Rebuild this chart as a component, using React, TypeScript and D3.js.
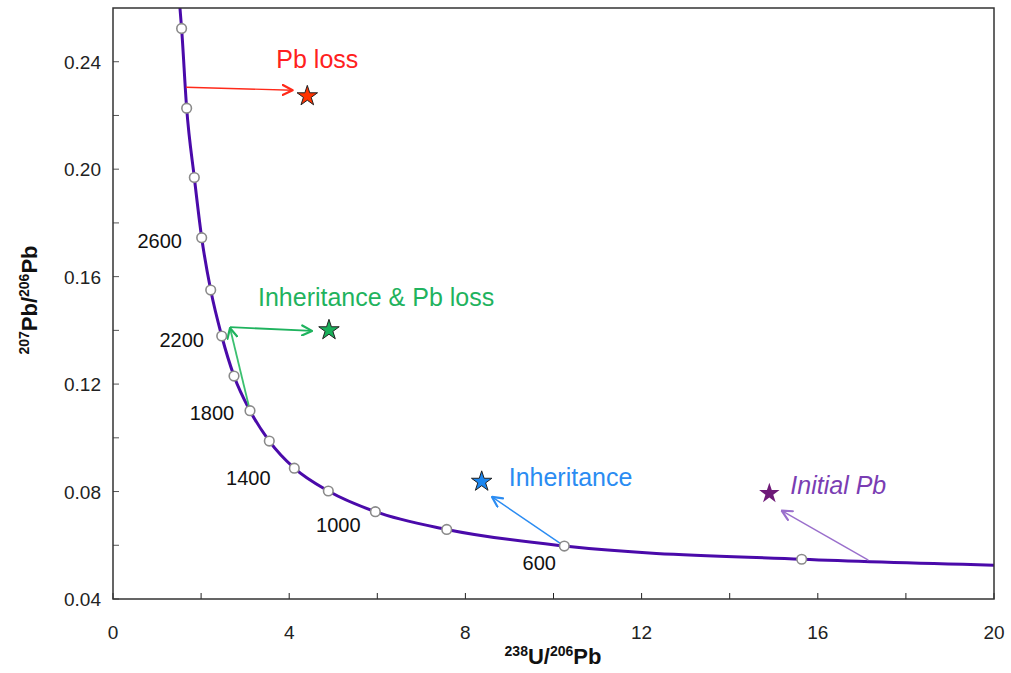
import * as d3 from 'd3';

// concordia reference points (Ma)
const concordiaAges = [3200, 3000, 2800, 2600, 2400, 2200, 2000, 1800, 1600, 1400, 1200, 1000, 800, 600, 400];
const markerU238Pb206 = [1.557, 1.672, 1.846, 2.013, 2.218, 2.468, 2.747, 3.11, 3.548, 4.116, 4.888, 5.956, 7.576, 10.245, 15.634];
const markerPb207Pb206 = [0.2524, 0.2227, 0.1969, 0.1745, 0.155, 0.1379, 0.123, 0.1101, 0.0988, 0.0887, 0.0802, 0.0725, 0.0659, 0.0597, 0.0548];

// curve ends outside the marker range
const curveStart = [1.52, 0.26];
const curveEnd = [20, 0.0526];

const labelledAges = [2600, 2200, 1800, 1400, 1000, 600];

const xTicks = [0, 2, 4, 6, 8, 10, 12, 14, 16, 18, 20];
const xTickLabels = [0, 4, 8, 12, 16, 20];
const yTicks = [0.04, 0.06, 0.08, 0.1, 0.12, 0.14, 0.16, 0.18, 0.2, 0.22, 0.24];
const yTickLabels = [0.04, 0.08, 0.12, 0.16, 0.2, 0.24];

// annotated analyses (stars) and arrow ends
const annotationNames = ['Pb loss', 'Inheritance & Pb loss', 'Inheritance', 'Initial Pb'];
const starU238Pb206 = [4.411, 4.903, 8.37, 14.9];
const starPb207Pb206 = [0.2272, 0.1401, 0.0837, 0.0793];
const arrowFrom = [[1.658, 0.2305], [2.656, 0.1412], [10.245, 0.0597], [17.147, 0.0545]];
const arrowTo = [[4.079, 0.2294], [4.518, 0.1398], [8.604, 0.078], [15.18, 0.0729]];
const extraArrowFrom = [3.11, 0.1101];
const extraArrowTo = [2.656, 0.1409];

const W = 1011;
const H = 673;
const x = d3.scaleLinear().domain([0, 20]).range([113, 994]);
const y = d3.scaleLinear().domain([0.04, 0.26]).range([599, 8]);

const font = '"Liberation Sans", Arial, sans-serif';

const ageLabelOffset: Record<number, [number, number]> = {
  2600: [-42, 10],
  2200: [-40, 11],
  1800: [-38, 9],
  1400: [-46, 17],
  1000: [-37, 20],
  600: [-25, 24],
};

const annStyle = [
  { text: '#ff2020', star: '#ff3300', arrow: '#ff2a1a', stroke: '#222', dx: 10, dy: -28, anchor: 'middle', italic: false, sw: 1.4 },
  { text: '#1fb35e', star: '#19b05a', arrow: '#1fb35e', stroke: '#222', dx: -71, dy: -24, anchor: 'start', italic: false, sw: 1.8 },
  { text: '#2b8cf2', star: '#1a86f0', arrow: '#2b8cf2', stroke: '#222', dx: 27, dy: 4, anchor: 'start', italic: false, sw: 1.4 },
  { text: '#7a3db3', star: '#6e1a78', arrow: '#9a6fcc', stroke: 'none', dx: 21, dy: 1, anchor: 'start', italic: true, sw: 1.4 },
];

export default function App() {
  const pts: [number, number][] = [
    curveStart as [number, number],
    ...markerU238Pb206.map((u, i) => [u, markerPb207Pb206[i]] as [number, number]),
    curveEnd as [number, number],
  ];
  const line = d3.line<[number, number]>()
    .x(d => x(d[0]))
    .y(d => y(d[1]))
    .curve(d3.curveMonotoneX);
  const star = d3.symbol().type(d3.symbolStar).size(130)();

  return (
    <svg width={W} height={H} style={{ position: 'absolute', left: 0, top: 0, background: '#fff' }} fontFamily={font}>
      <defs>
        {annStyle.map((s, i) => (
          <marker key={i} id={`head${i}`} viewBox="0 0 12 12" refX={11} refY={6}
            markerWidth={12} markerHeight={12} markerUnits="userSpaceOnUse" orient="auto">
            <path d="M1,1 L11,6 L1,11" fill="none" stroke={s.arrow} strokeWidth={2.2} strokeLinecap="round" strokeLinejoin="round" />
          </marker>
        ))}
        <clipPath id="plot">
          <rect x={x(0)} y={y(0.26)} width={x(20) - x(0)} height={y(0.04) - y(0.26)} />
        </clipPath>
      </defs>

      {/* ticks, inward */}
      {xTicks.map(t => (
        <line key={`xt${t}`} x1={x(t)} x2={x(t)} y1={y(0.04)} y2={y(0.04) - 6} stroke="#222" strokeWidth={1} />
      ))}
      {yTicks.map(t => (
        <line key={`yt${t}`} x1={x(0)} x2={x(0) + 6} y1={y(t)} y2={y(t)} stroke="#555" strokeWidth={1} />
      ))}
      {xTickLabels.map(t => (
        <text key={`xl${t}`} x={x(t)} y={y(0.04) + 40} textAnchor="middle" fontSize={19} fill="#222">{t}</text>
      ))}
      {yTickLabels.map(t => (
        <text key={`yl${t}`} x={x(0) - 12} y={y(t) + 7} textAnchor="end" fontSize={19} fill="#222">{d3.format('.2f')(t)}</text>
      ))}

      {/* axis titles */}
      <text x={553} y={664} textAnchor="middle" fontSize={22} fontWeight="bold" fill="#111">
        <tspan fontSize={14} dy={-8}>238</tspan>
        <tspan dy={8}>U/</tspan>
        <tspan fontSize={14} dy={-8}>206</tspan>
        <tspan dy={8}>Pb</tspan>
      </text>
      <text transform="translate(37,300) rotate(-90)" textAnchor="middle" fontSize={22} fontWeight="bold" fill="#111">
        <tspan fontSize={14} dy={-8}>207</tspan>
        <tspan dy={8}>Pb/</tspan>
        <tspan fontSize={14} dy={-8}>206</tspan>
        <tspan dy={8}>Pb</tspan>
      </text>

      {/* concordia */}
      <g clipPath="url(#plot)">
        <path d={line(pts) ?? ''} fill="none" stroke="#4a0aaa" strokeWidth={3} />
      </g>

      {/* arrows */}
      {annotationNames.map((n, i) => (
        <line key={`ar${i}`} x1={x(arrowFrom[i][0])} y1={y(arrowFrom[i][1])} x2={x(arrowTo[i][0])} y2={y(arrowTo[i][1])}
          stroke={annStyle[i].arrow} strokeWidth={annStyle[i].sw} markerEnd={`url(#head${i})`} />
      ))}
      <line x1={x(extraArrowFrom[0])} y1={y(extraArrowFrom[1])} x2={x(extraArrowTo[0])} y2={y(extraArrowTo[1])}
        stroke="#3cc070" strokeWidth={1.8} markerEnd="url(#head1)" />

      {/* age markers */}
      {markerU238Pb206.map((u, i) => (
        <circle key={`m${i}`} cx={x(u)} cy={y(markerPb207Pb206[i])} r={4.8} fill="#fff" stroke="#8a8a8a" strokeWidth={1.6} />
      ))}
      {labelledAges.map(a => {
        const i = concordiaAges.indexOf(a);
        const [dx, dy] = ageLabelOffset[a];
        return (
          <text key={`al${a}`} x={x(markerU238Pb206[i]) + dx} y={y(markerPb207Pb206[i]) + dy} textAnchor="middle" fontSize={20} fill="#111">{a}</text>
        );
      })}

      {/* stars and labels */}
      {annotationNames.map((n, i) => {
        const sx = x(starU238Pb206[i]);
        const sy = y(starPb207Pb206[i]);
        const s = annStyle[i];
        return (
          <g key={`s${i}`}>
            <path d={star ?? ''} transform={`translate(${sx},${sy})`} fill={s.star} stroke={s.stroke} strokeWidth={1} />
            <text x={sx + s.dx} y={sy + s.dy} textAnchor={s.anchor} fontSize={25} fill={s.text} fontStyle={s.italic ? 'italic' : 'normal'}>{n}</text>
          </g>
        );
      })}

      {/* frame */}
      <rect x={x(0)} y={y(0.26)} width={x(20) - x(0)} height={y(0.04) - y(0.26)} fill="none" stroke="#333" strokeWidth={1.5} />
    </svg>
  );
}
